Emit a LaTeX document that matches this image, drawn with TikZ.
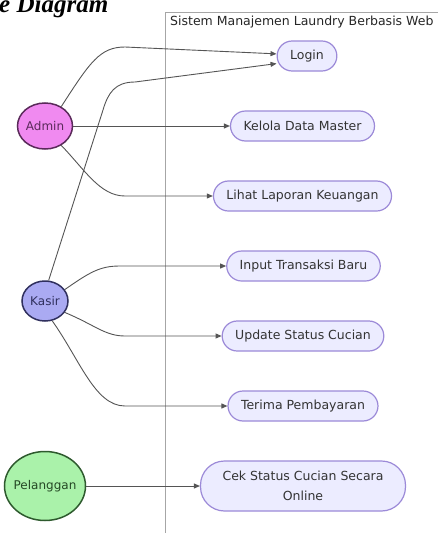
\documentclass[tikz,border=0pt]{standalone}
\usepackage{fontspec}
\setmainfont{DejaVu Sans}
\newfontfamily\headfont{Liberation Serif}
\usetikzlibrary{shapes.geometric,arrows.meta}

\definecolor{ucfill}{HTML}{ECECFF}
\definecolor{ucline}{HTML}{9C8AD8}
\definecolor{adminfill}{HTML}{F08AF0}
\definecolor{adminline}{HTML}{5A2A5A}
\definecolor{kasirfill}{HTML}{AAAAF2}
\definecolor{kasirline}{HTML}{30305E}
\definecolor{pelfill}{HTML}{AAF2AA}
\definecolor{pelline}{HTML}{2E5A2E}
\definecolor{linkgray}{HTML}{555555}

\tikzset{
  usecase/.style={draw=ucline, fill=ucfill, line width=1.2pt, rounded corners=15pt,
    minimum height=30pt, inner xsep=13pt, text=black!80, font=\fontsize{12.5}{20}\selectfont},
  actor/.style={ellipse, draw, line width=1.5pt, inner sep=-9pt, font=\fontsize{12}{14}\selectfont},
  link/.style={draw=linkgray, line width=0.9pt, -{Triangle[length=6pt,width=5pt]}}
}

\begin{document}
\begin{tikzpicture}[x=1pt,y=-1pt]
\useasboundingbox (0,0) rectangle (438,533);
\clip (0,0) rectangle (438,533);
% page heading (cut at the top)
\node[anchor=base west, inner sep=0pt, font=\headfont\bfseries\itshape\fontsize{25}{25}\selectfont] (head) at (-1,12) {e Diagram};
% system boundary
\draw[gray!70, line width=1pt, fill=white] (165,12) rectangle (445,540);
\node[anchor=west, inner sep=0pt, font=\fontsize{12.5}{14}\selectfont, text=black!85] (sys) at (170,22) {Sistem Manajemen Laundry Berbasis Web};
% actors
\node[actor, fill=adminfill, draw=adminline, text=adminline, minimum width=55pt, minimum height=46pt] (admin) at (45,126) {Admin};
\node[actor, fill=kasirfill, draw=kasirline, text=kasirline, minimum width=46pt, minimum height=40pt] (kasir) at (45,301) {Kasir};
\node[actor, fill=pelfill, draw=pelline, text=pelline!80!black, minimum width=81pt, minimum height=69pt] (pelanggan) at (45,486) {Pelanggan};
% use cases
\node[usecase] (login) at (307,56) {Login};
\node[usecase] (kelola) at (302.5,126) {Kelola Data Master};
\node[usecase] (lihat) at (302.5,196) {Lihat Laporan Keuangan};
\node[usecase] (input) at (303.5,266) {Input Transaksi Baru};
\node[usecase] (update) at (303,336) {Update Status Cucian};
\node[usecase] (terima) at (303,406) {Terima Pembayaran};
\node[usecase, inner xsep=22pt, minimum height=50pt, rounded corners=24pt, align=center] (cek) at (303,486) {Cek Status Cucian Secara\\Online};
% links
\draw[link] (admin.50) .. controls (90,62) and (100,47) .. (125,47) -- (login.176);
\draw[link] (kasir.80) -- (103,110) .. controls (108,93) and (115,82) .. (135,82) -- (login.194);
\draw[link] (admin) -- (kelola);
\draw[link] (admin.-50) .. controls (85,170) and (100,196) .. (125,196) -- (lihat.west);
\draw[link] (kasir.30) .. controls (90,272) and (100,266) .. (120,266) -- (input.west);
\draw[link] (kasir.-30) .. controls (95,325) and (105,336) .. (125,336) -- (update.west);
\draw[link] (kasir.-70) .. controls (80,360) and (95,406) .. (125,406) -- (terima.west);
\draw[link] (pelanggan) -- (cek);
\end{tikzpicture}
\end{document}
